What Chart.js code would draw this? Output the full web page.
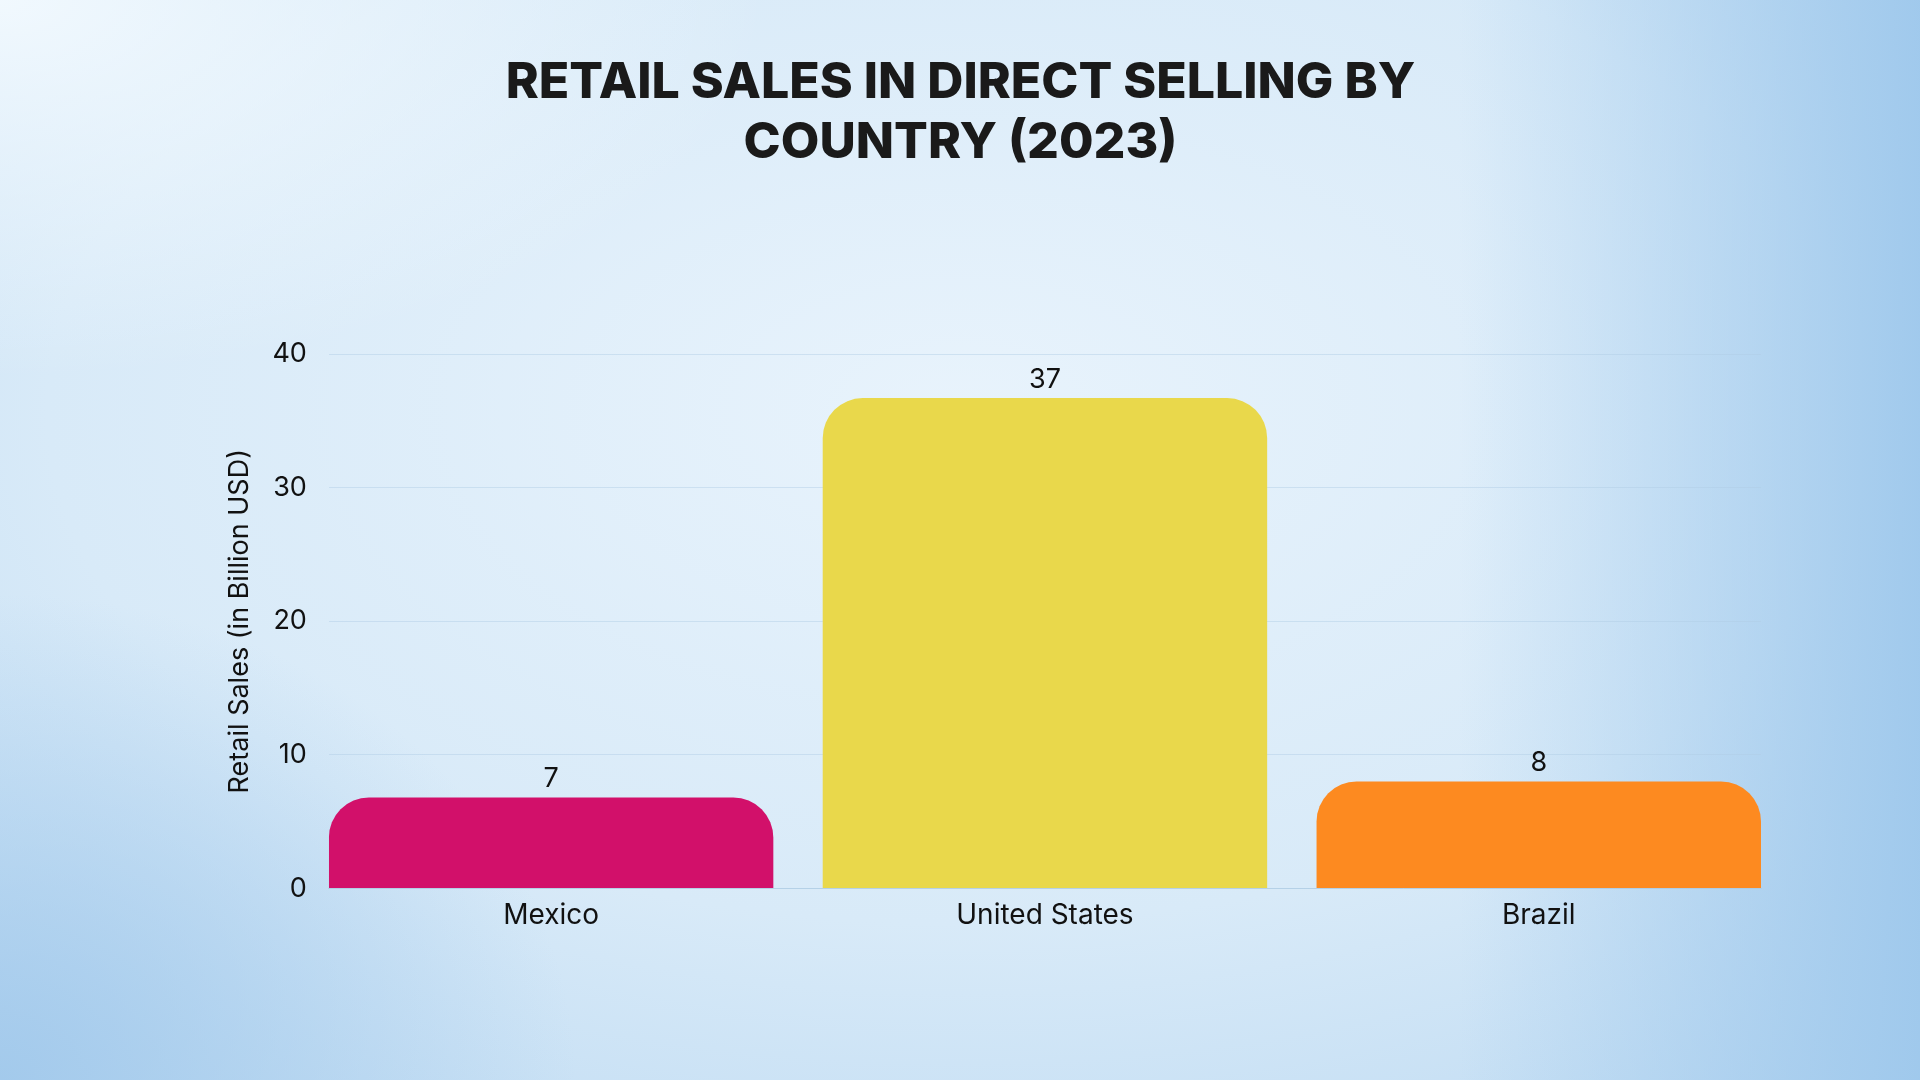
<!DOCTYPE html>
<html>
<head>
<meta charset="utf-8">
<script src="https://cdn.jsdelivr.net/npm/chart.js@4"></script>
<style>
  html, body { margin: 0; padding: 0; }
  body {
    width: 1920px;
    height: 1080px;
    overflow: hidden;
    background:
      radial-gradient(ellipse 40% 35% at 0% 0%, rgba(245,251,255,0.9) 0%, rgba(245,251,255,0) 100%),
      radial-gradient(ellipse 30% 45% at 0% 100%, rgba(160,200,235,0.9) 0%, rgba(160,200,235,0) 100%),
      linear-gradient(90deg, rgba(158,200,236,0) 76%, rgba(158,200,236,0.95) 100%),
      radial-gradient(ellipse 95% 95% at 50% 38%, #e8f3fc 0%, #d8eaf8 50%, #b3d4f0 100%);
  }
  #wrap { position: absolute; left: 0; top: 0; width: 1920px; height: 1080px; }
</style>
</head>
<body>
<div id="wrap"><canvas id="salesChart" width="1920" height="1080"></canvas></div>
<script>
const countries = ['Mexico', 'United States', 'Brazil'];
const sales = [6.8, 36.7, 8.0];
const barColors = ['#d2106a', '#e9d84b', '#fd8a20'];
const titleLines = ['RETAIL SALES IN DIRECT SELLING BY', 'COUNTRY (2023)'];
const yTitle = 'Retail Sales (in Billion USD)';

// bars sit on a numeric x axis so they can reach the plot edges
const points = countries.map((c, i) => ({ x: i, y: sales[i] }));

// draws the value above each bar
const valueLabels = {
  id: 'valueLabels',
  afterDatasetsDraw(chart) {
    const ctx = chart.ctx;
    const meta = chart.getDatasetMeta(0);
    ctx.save();
    ctx.font = '27px Inter';
    ctx.fillStyle = '#111111';
    ctx.textAlign = 'center';
    ctx.textBaseline = 'bottom';
    meta.data.forEach((bar, i) => {
      ctx.fillText(Math.round(sales[i]), bar.x, bar.y - 5);
    });
    ctx.restore();
  }
};

const ctx = document.getElementById('salesChart').getContext('2d');

new Chart(ctx, {
  type: 'bar',
  data: {
    datasets: [{
      data: points,
      backgroundColor: barColors,
      borderRadius: { topLeft: 40, topRight: 40 },
      borderSkipped: 'bottom',
      barPercentage: 0.9,
      categoryPercentage: 1
    }]
  },
  options: {
    responsive: false,
    animation: false,
    layout: { padding: { left: 160, right: 159, top: 0, bottom: 146 } },
    plugins: {
      legend: { display: false },
      tooltip: { enabled: false },
      title: {
        display: true,
        text: titleLines,
        color: '#1a1a1a',
        font: { family: 'Inter', size: 50, weight: '800' },
        lineHeight: 1.22,
        padding: { top: 53, bottom: 181 }
      }
    },
    scales: {
      x: {
        type: 'linear',
        offset: false,
        min: -0.45,
        max: countries.length - 0.55,
        grid: { display: false, offset: false },
        border: { color: 'rgba(170,200,225,0.6)' },
        ticks: {
          stepSize: 1,
          includeBounds: false,
          autoSkip: false,
          maxRotation: 0,
          color: '#111111',
          font: { family: 'Inter', size: 28 },
          padding: 2,
          callback: (v) => Number.isInteger(v) ? countries[v] : ''
        }
      },
      y: {
        min: 0,
        max: 40,
        grid: { color: 'rgba(175,205,228,0.45)', drawTicks: false },
        border: { display: false },
        ticks: {
          stepSize: 10,
          color: '#111111',
          font: { family: 'Inter', size: 27 },
          padding: 22
        },
        title: {
          display: true,
          text: yTitle,
          color: '#111111',
          font: { family: 'Inter', size: 27 },
          padding: { top: 64, bottom: -6 }
        }
      }
    }
  },
  plugins: [valueLabels]
});
</script>
</body>
</html>
